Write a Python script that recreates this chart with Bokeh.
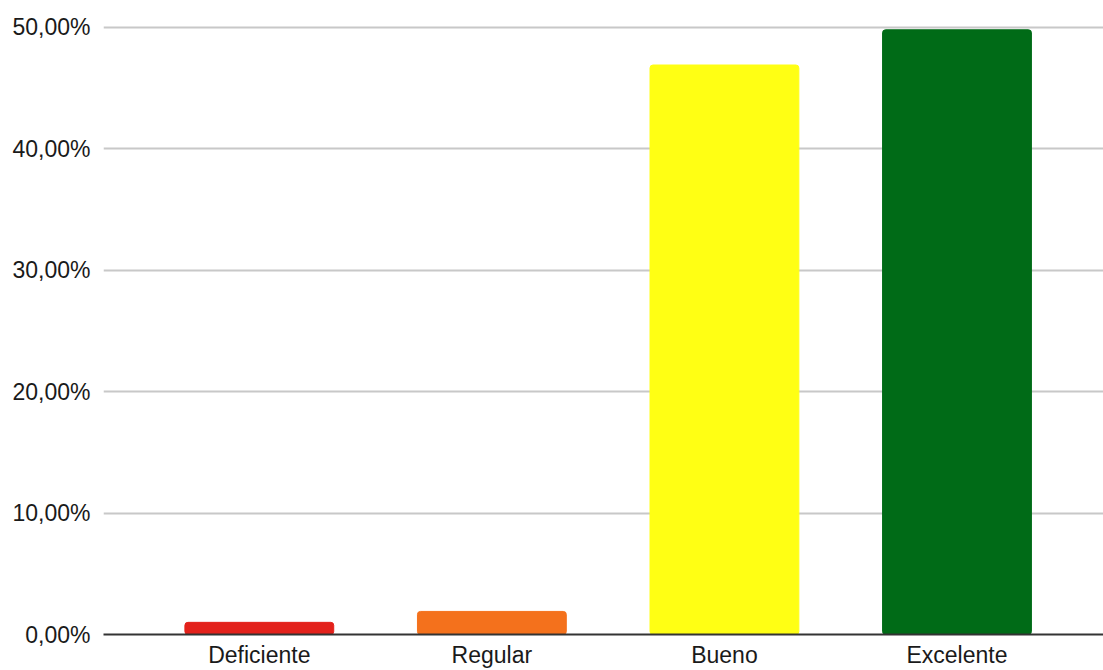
from bokeh.plotting import figure
from bokeh.models import Range1d, FixedTicker, ColumnDataSource
from bokeh.embed import file_html
from bokeh.resources import INLINE

categories = ["Deficiente", "Regular", "Bueno", "Excelente"]
values = [1.0, 1.9, 46.9, 49.8]
colors = ["#e3211b", "#f4711c", "#ffff14", "#006b17"]
y_ticks = [0, 10, 20, 30, 40, 50]
y_tick_labels = ["0,00%", "10,00%", "20,00%", "30,00%", "40,00%", "50,00%"]

xs = list(range(len(categories)))
src = ColumnDataSource(dict(x=xs, top=values, color=colors))

p = figure(width=1103, height=670, output_backend="svg", toolbar_location=None,
           x_range=Range1d(-0.67, 3.63), y_range=Range1d(0, 50.4),
           min_border_left=103, min_border_right=0, min_border_top=22, min_border_bottom=20)
p.outline_line_color = None
p.vbar(x="x", top="top", bottom=0, width=0.64, color="color", source=src, border_radius=3)

p.xaxis.ticker = FixedTicker(ticks=xs)
p.xaxis.major_label_overrides = {x: c for x, c in zip(xs, categories)}
p.xaxis.major_tick_line_color = None
p.xaxis.minor_tick_line_color = None
p.xaxis.axis_line_color = "#333333"
p.xaxis.axis_line_width = 2
p.xaxis.major_label_text_font = "Liberation Sans"
p.xaxis.major_label_text_font_size = "23px"
p.xaxis.major_label_text_color = "#1a1a1a"
p.xaxis.major_label_standoff = 1
p.xgrid.grid_line_color = None

p.yaxis.ticker = FixedTicker(ticks=y_ticks)
p.yaxis.major_label_overrides = {t: l for t, l in zip(y_ticks, y_tick_labels)}
p.yaxis.major_tick_line_color = None
p.yaxis.minor_tick_line_color = None
p.yaxis.axis_line_color = None
p.yaxis.major_label_text_font = "Liberation Sans"
p.yaxis.major_label_text_font_size = "23px"
p.yaxis.major_label_text_color = "#1a1a1a"
p.yaxis.major_label_standoff = 7
p.ygrid.ticker = FixedTicker(ticks=y_ticks)
p.ygrid.grid_line_color = "#c8c8c8"
p.ygrid.grid_line_width = 2

open("out.html", "w").write(file_html(p, INLINE))
